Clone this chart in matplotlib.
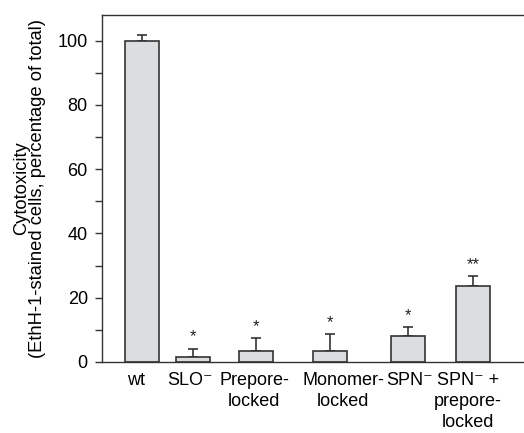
import numpy as np
import matplotlib.pyplot as plt

plt.rcParams['font.family'] = ['Liberation Sans', 'DejaVu Sans']

categories = ['wt', 'SLO\u207b', 'Prepore-\nlocked', 'Monomer-\nlocked',
              'SPN\u207b', 'SPN\u207b +\nprepore-\nlocked']
values = [100, 1.5, 3.5, 3.5, 8.1, 23.5]
errors = [1.9, 2.7, 3.9, 5.1, 2.8, 3.4]
stars = ['', '*', '*', '*', '*', '**']

# layout (horizontal positions in pixel-like units)
bar_x = [142, 193, 256, 330, 408, 473]
label_x = [136, 190, 254, 343, 410, 468]

fig = plt.figure(figsize=(5.24, 4.33), dpi=100)
ax = fig.add_axes([102 / 524, 1 - 362 / 433, 1 - 102 / 524, (362 - 15) / 433])

edge = '#333333'
ax.bar(bar_x, values, width=34, color='#dcdddf', edgecolor=edge, linewidth=1.2, zorder=2)
ax.errorbar(bar_x, values, yerr=[np.zeros(len(values)), errors], fmt='none',
            ecolor=edge, elinewidth=1.2, capsize=3.3, capthick=1.2, zorder=1)

for x, v, e, s in zip(bar_x, values, errors, stars):
    if s:
        ax.annotate(s, (x, v + e), xytext=(0, 5), textcoords='offset points',
                    ha='center', va='baseline', fontsize=12, color='#222222')

ax.set_xlim(102, 524)
ax.set_ylim(0, 108)
ax.set_yticks([0, 20, 40, 60, 80, 100])
ax.set_yticks([10, 30, 50, 70, 90], minor=True)
ax.tick_params(axis='y', which='both', direction='out', length=5.2, width=1.0,
               color=edge, labelsize=13, pad=5)
ax.set_xticks(label_x, categories)
ax.tick_params(axis='x', length=0, labelsize=13, pad=7)
for lab in ax.get_xticklabels():
    lab.set_linespacing(1.3)
    lab.set_verticalalignment('top')

for side in ['left', 'bottom', 'top']:
    ax.spines[side].set_color(edge)
    ax.spines[side].set_linewidth(1.0)
ax.spines['right'].set_visible(False)

ax.set_ylabel('Cytotoxicity\n(EthH-1-stained cells, percentage of total)', fontsize=13.2,
              linespacing=0.95)
ax.yaxis.set_label_coords((46 - 102) / 422, 0.5)

fig.savefig('out.png', dpi=100)
